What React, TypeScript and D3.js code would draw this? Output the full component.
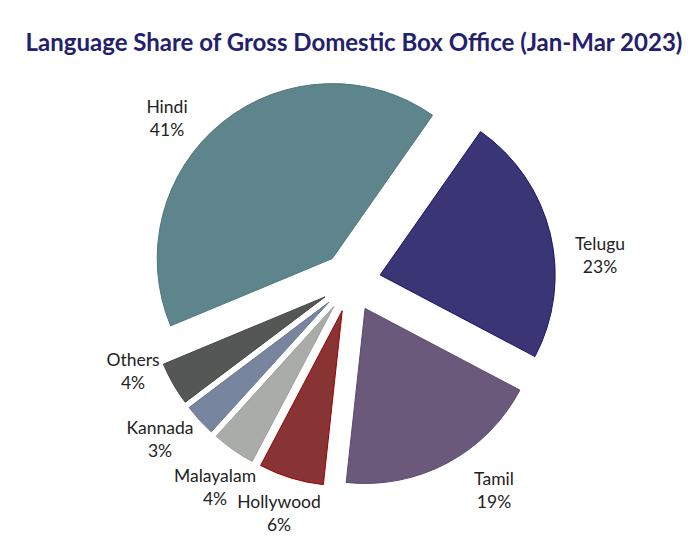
import React from "react";
import * as d3 from "d3";

const languages = ["Hindi", "Telugu", "Tamil", "Hollywood", "Malayalam", "Kannada", "Others"];
const shares = [41, 23, 19, 6, 4, 3, 4];
const fills = ["#5E858B", "#3A3574", "#6B597C", "#883434", "#AAACAA", "#77869E", "#545756"];
const strokes = ["#4E757B", "#1A1670", "#5A4A70", "#A00000", "#9A9C9A", "#67768E", "#444746"];

// layout: label anchor (center x, first-line baseline y), in page pixels
const labelAnchors: [number, number][] = [
  [167, 113],
  [600, 250],
  [494, 485],
  [279, 508],
  [215, 482],
  [160, 434],
  [133, 366],
];

const W = 700;
const H = 549;
const cx = 351;
const cy = 282;
const R = 175;
const explode = 30;
const startDeg = 247.4;
const font = "Lato, 'Open Sans', sans-serif";

export default function App() {
  const pie = d3
    .pie<number>()
    .sort(null)
    .value((d) => d)
    .startAngle((startDeg * Math.PI) / 180)
    .endAngle(((startDeg + 360) * Math.PI) / 180);
  const arcs = pie(shares);
  const arcGen = d3.arc<d3.PieArcDatum<number>>().innerRadius(0).outerRadius(R);

  return (
    <svg width={W} height={H} style={{ position: "absolute", left: 0, top: 0, background: "#fff" }}>
      <text
        x={354}
        y={51}
        textAnchor="middle"
        fontFamily={font}
        fontWeight="bold"
        fontSize={24}
        fill="#23206E"
      >
        Language Share of Gross Domestic Box Office (Jan-Mar 2023)
      </text>
      <g transform={`translate(${cx},${cy})`}>
        {arcs.map((a, i) => {
          const mid = (a.startAngle + a.endAngle) / 2;
          const dx = Math.sin(mid) * explode;
          const dy = -Math.cos(mid) * explode;
          return (
            <path
              key={languages[i]}
              d={arcGen(a) || ""}
              transform={`translate(${dx},${dy})`}
              fill={fills[i]}
              stroke={strokes[i]}
              strokeWidth={1}
            />
          );
        })}
      </g>
      {languages.map((name, i) => {
        const [lx, ly] = labelAnchors[i];
        return (
          <text
            key={"l" + name}
            x={lx}
            y={ly}
            textAnchor="middle"
            fontFamily={font}
            fontSize={17.5}
            fill="#222"
          >
            <tspan x={lx} y={ly}>{name}</tspan>
            <tspan x={lx} y={ly + 23}>{shares[i]}%</tspan>
          </text>
        );
      })}
    </svg>
  );
}
